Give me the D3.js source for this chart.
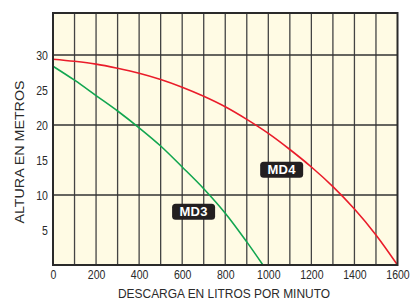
<!DOCTYPE html>
<html>
<head>
<meta charset="utf-8">
<script src="https://cdn.jsdelivr.net/npm/d3@7"></script>
<style>
  body { margin: 0; background: #fff; }
  svg { display: block; }
  text { font-family: "Liberation Sans", Arial, sans-serif; fill: #2a2a2a; }
</style>
</head>
<body>
<div id="chart"></div>
<script>
// caudal (litros por minuto) y altura (metros)
var md4Flow = [0, 100, 200, 300, 400, 500, 600, 700, 800, 900, 1000, 1100, 1200, 1300, 1400, 1500, 1600];
var md4Head = [29.4, 29.1, 28.7, 28.1, 27.4, 26.5, 25.4, 24.1, 22.6, 20.8, 18.8, 16.5, 14.0, 11.2, 8.0, 4.3, 0];
var md3Flow = [0, 100, 200, 300, 400, 500, 600, 700, 800, 900, 975];
var md3Head = [28.4, 26.4, 24.2, 22.0, 19.6, 17.0, 14.0, 10.9, 7.4, 3.3, 0];
var xTicks = [0, 200, 400, 600, 800, 1000, 1200, 1400, 1600];
var yTicks = [5, 10, 15, 20, 25, 30];
var xGrid = d3.range(100, 1600, 100);
var yGrid = [10, 20, 30];

var W = 410, H = 301;
var margin = { top: 13, right: 12.5, bottom: 36, left: 53 };
var width = W - margin.left - margin.right;
var height = H - margin.top - margin.bottom;

var svg = d3.select('#chart').append('svg').attr('width', W).attr('height', H);
var g = svg.append('g').attr('transform', 'translate(' + margin.left + ',' + margin.top + ')');

var x = d3.scaleLinear().domain([0, 1600]).range([0, width]);
var y = d3.scaleLinear().domain([0, 36]).range([height, 0]);

// fondo
g.append('rect')
    .attr('width', width)
    .attr('height', height)
    .attr('fill', '#fffbe4');

// rejilla
g.append('g').selectAll('line')
    .data(xGrid)
    .enter().append('line')
    .attr('x1', function (d) { return x(d); })
    .attr('x2', function (d) { return x(d); })
    .attr('y1', 0)
    .attr('y2', height)
    .attr('stroke', '#444')
    .attr('stroke-width', 1.3);

g.append('g').selectAll('line')
    .data(yGrid)
    .enter().append('line')
    .attr('x1', 0)
    .attr('x2', width)
    .attr('y1', function (d) { return y(d); })
    .attr('y2', function (d) { return y(d); })
    .attr('stroke', '#333')
    .attr('stroke-width', 1.4);

// curvas
var line = d3.line()
    .x(function (d) { return x(d[0]); })
    .y(function (d) { return y(d[1]); })
    .curve(d3.curveCatmullRom.alpha(0.5));

g.append('path')
    .datum(d3.zip(md3Flow, md3Head))
    .attr('d', line)
    .attr('fill', 'none')
    .attr('stroke', '#12a650')
    .attr('stroke-width', 1.6);

g.append('path')
    .datum(d3.zip(md4Flow, md4Head))
    .attr('d', line)
    .attr('fill', 'none')
    .attr('stroke', '#ea1c2a')
    .attr('stroke-width', 1.6);

// marco
g.append('rect')
    .attr('width', width)
    .attr('height', height)
    .attr('fill', 'none')
    .attr('stroke', '#2a2a2a')
    .attr('stroke-width', 2);

// ejes
var xAxis = g.append('g')
    .attr('transform', 'translate(0,' + height + ')')
    .call(d3.axisBottom(x).tickValues(xTicks).tickFormat(d3.format('d')).tickSize(0).tickPadding(4));
xAxis.select('.domain').remove();
xAxis.selectAll('text')
    .attr('font-size', 13.5)
    .attr('fill', '#2a2a2a')
    .attr('transform', 'scale(0.78,1)');

var yAxis = g.append('g')
    .call(d3.axisLeft(y).tickValues(yTicks).tickSize(0).tickPadding(0));
yAxis.select('.domain').remove();
yAxis.selectAll('text')
    .attr('font-size', 13.5)
    .attr('fill', '#2a2a2a')
    .attr('x', -6.5)
    .attr('transform', 'scale(0.78,1)');

// titulos
svg.append('text')
    .attr('x', 224)
    .attr('y', 298)
    .attr('text-anchor', 'middle')
    .attr('font-size', 13.5)
    .attr('textLength', 212)
    .attr('lengthAdjust', 'spacingAndGlyphs')
    .text('DESCARGA EN LITROS POR MINUTO');

svg.append('text')
    .attr('transform', 'translate(24,152) rotate(-90)')
    .attr('text-anchor', 'middle')
    .attr('font-size', 13.5)
    .attr('textLength', 143)
    .attr('lengthAdjust', 'spacingAndGlyphs')
    .text('ALTURA EN METROS');

// etiquetas de modelo
var tags = [
    { name: 'MD3', flow: 653, head: 7.6 },
    { name: 'MD4', flow: 1062, head: 13.6 }
];
var tag = g.selectAll('.tag')
    .data(tags)
    .enter().append('g')
    .attr('class', 'tag')
    .attr('transform', function (d) { return 'translate(' + x(d.flow) + ',' + y(d.head) + ')'; });
tag.append('rect')
    .attr('x', -21.5)
    .attr('y', -8)
    .attr('width', 43)
    .attr('height', 16)
    .attr('rx', 3.5)
    .attr('fill', '#231f20');
tag.append('text')
    .attr('text-anchor', 'middle')
    .attr('dy', '0.36em')
    .attr('font-size', 13)
    .attr('font-weight', 'bold')
    .attr('letter-spacing', 0.3)
    .style('fill', '#fff')
    .text(function (d) { return d.name; });
</script>
</body>
</html>
